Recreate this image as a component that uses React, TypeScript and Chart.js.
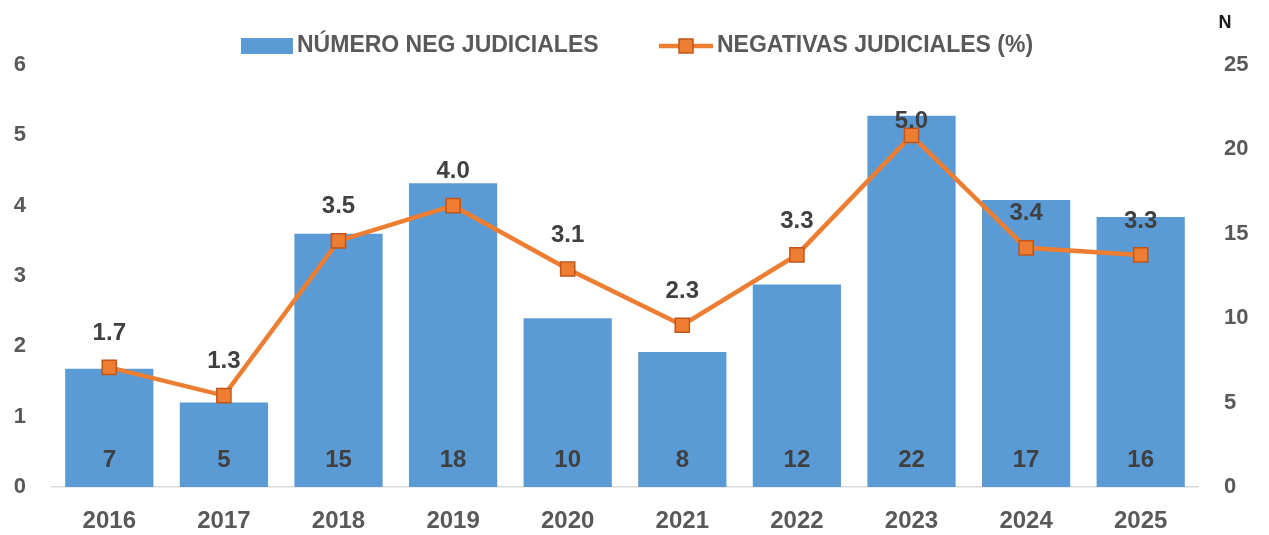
import React, { useEffect, useRef } from "react";
import { Chart, registerables } from "chart.js";

Chart.register(...registerables);

const years = ["2016", "2017", "2018", "2019", "2020", "2021", "2022", "2023", "2024", "2025"];
const numeroNeg = [7, 5, 15, 18, 10, 8, 12, 22, 17, 16];
const negativasPct = [1.7, 1.3, 3.5, 4.0, 3.1, 2.3, 3.3, 5.0, 3.4, 3.3];
const barLabel = "NÚMERO NEG JUDICIALES";
const lineLabel = "NEGATIVAS JUDICIALES (%)";
const rightAxisTitle = "N";

const FONT = "'Liberation Sans', Arial, sans-serif";
const BLUE = "#5B9BD5";
const ORANGE = "#ED7D31";
const ORANGE_DARK = "#C0561A";
const TICK = "#595959";
const LABEL = "#404040";

const overlayPlugin = {
  id: "overlay",
  afterDatasetsDraw(chart: any) {
    const ctx = chart.ctx;
    const area = chart.chartArea;
    ctx.save();
    ctx.textAlign = "center";
    ctx.textBaseline = "middle";
    ctx.font = `bold 24px ${FONT}`;
    ctx.fillStyle = LABEL;
    // bar labels
    const barMeta = chart.getDatasetMeta(1);
    barMeta.data.forEach((el: any, i: number) => {
      ctx.fillText(String(numeroNeg[i]), el.x, area.bottom - 27);
    });
    // line labels
    const lineMeta = chart.getDatasetMeta(0);
    lineMeta.data.forEach((el: any, i: number) => {
      const y = Math.max(el.y - 34, area.top + 56);
      ctx.fillText(negativasPct[i].toFixed(1), el.x, y);
    });
    // legend
    const ly = 46;
    ctx.font = `bold 23px ${FONT}`;
    ctx.textAlign = "left";
    ctx.fillStyle = BLUE;
    ctx.fillRect(241, ly - 8, 52, 16);
    ctx.fillStyle = TICK;
    ctx.fillText(barLabel, 297, ly);
    ctx.strokeStyle = ORANGE;
    ctx.lineWidth = 4.5;
    ctx.beginPath();
    ctx.moveTo(659, ly);
    ctx.lineTo(713, ly);
    ctx.stroke();
    ctx.fillStyle = ORANGE;
    ctx.fillRect(679, ly - 7, 14, 14);
    ctx.strokeStyle = ORANGE_DARK;
    ctx.lineWidth = 1.5;
    ctx.strokeRect(679, ly - 7, 14, 14);
    ctx.fillStyle = TICK;
    ctx.fillText(lineLabel, 717, ly);
    // right axis title
    ctx.textAlign = "center";
    ctx.font = `bold 18px ${FONT}`;
    ctx.fillStyle = "#1a1a1a";
    ctx.fillText(rightAxisTitle, 1225, 23);
    ctx.restore();
  },
};

export default function App() {
  const ref = useRef<HTMLCanvasElement>(null);
  useEffect(() => {
    document.body.style.margin = "0";
    const chart = new Chart(ref.current as HTMLCanvasElement, {
      type: "bar",
      data: {
        labels: years,
        datasets: [
          {
            type: "line",
            label: lineLabel,
            data: negativasPct,
            yAxisID: "y",
            borderColor: ORANGE,
            borderWidth: 4.5,
            pointStyle: "rect",
            pointRadius: 10,
            pointBackgroundColor: ORANGE,
            pointBorderColor: ORANGE_DARK,
            pointBorderWidth: 1.5,
            tension: 0,
            order: 0,
          } as any,
          {
            type: "bar",
            label: barLabel,
            data: numeroNeg,
            yAxisID: "y1",
            backgroundColor: BLUE,
            barPercentage: 0.77,
            categoryPercentage: 1,
            order: 1,
          },
        ],
      },
      options: {
        responsive: false,
        animation: false,
        layout: { padding: { top: 65, left: 0, right: 0, bottom: 0 } },
        plugins: { legend: { display: false }, tooltip: { enabled: false } },
        scales: {
          x: {
            grid: { display: false, drawTicks: false },
            border: { display: true, color: "#D9D9D9", width: 1.5 },
            ticks: { color: TICK, font: { family: FONT, size: 24, weight: "bold" }, padding: 20 },
            afterFit: (s: any) => { s.height = 48; },
          },
          y: {
            position: "left",
            min: 0,
            max: 6,
            grid: { display: false, drawTicks: false },
            border: { display: false },
            ticks: { stepSize: 1, color: TICK, font: { family: FONT, size: 22, weight: "bold" }, padding: 26 },
            afterFit: (s: any) => { s.width = 52; },
          },
          y1: {
            position: "right",
            min: 0,
            max: 25,
            grid: { display: false, drawTicks: false },
            border: { display: false },
            ticks: { stepSize: 5, color: TICK, font: { family: FONT, size: 22, weight: "bold" }, padding: 26 },
            afterFit: (s: any) => { s.width = 71; },
          },
        },
      } as any,
      plugins: [overlayPlugin],
    });
    return () => chart.destroy();
  }, []);
  return (
    <div style={{ position: "absolute", left: 0, top: 0, width: 1269, height: 535, background: "#fff" }}>
      <canvas ref={ref} width={1269} height={535} style={{ display: "block" }} />
    </div>
  );
}
